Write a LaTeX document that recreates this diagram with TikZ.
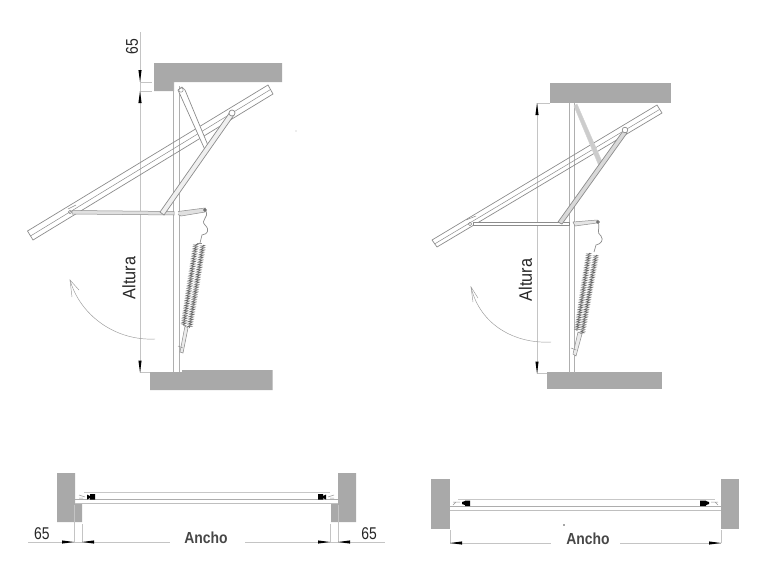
\documentclass[tikz,border=0pt]{standalone}
\usepackage{fontspec}
\setmainfont{Liberation Sans}
\usetikzlibrary{calc,decorations.pathmorphing}
\definecolor{wallgrey}{HTML}{A9A9A9}
\definecolor{dimgrey}{HTML}{C4C4C4}
\definecolor{linegrey}{HTML}{8C8C8C}
\tikzset{
  wall/.style={fill=wallgrey,draw=none},
  dimline/.style={draw=dimgrey,line width=.8pt},
  extline/.style={draw=dimgrey,line width=.6pt},
  framel/.style={draw=linegrey!70,line width=.8pt},
  sashl/.style={draw=linegrey,line width=.7pt},
  arml/.style={draw=linegrey,line width=.7pt,fill=white},
  thinl/.style={draw=linegrey,line width=.5pt},
  springl/.style={draw=black!60,line width=.45pt,decorate,decoration={zigzag,segment length=1.7pt,amplitude=2.1pt}},
  swing/.style={draw=black!40,line width=.45pt},
  label/.style={text=black!85,inner sep=0pt},
  boldlabel/.style={text=black!72,inner sep=0pt,font=\bfseries\fontsize{16}{16}\selectfont},
  head/.style={fill=black,draw=none},
  planA/.style={draw=black!22,line width=1pt},
  planB/.style={draw=black!32,line width=.7pt},
  planC/.style={draw=black!25,line width=.8pt},
}
\newcommand{\hdown}[2]{\fill[head] (#1,#2) -- ++(-1.6,-12) -- ++(3.2,0) -- cycle;}
\newcommand{\hup}[2]{\fill[head] (#1,#2) -- ++(-1.6,12) -- ++(3.2,0) -- cycle;}
\newcommand{\hright}[2]{\fill[head] (#1,#2) -- ++(-12,-1.6) -- ++(0,3.2) -- cycle;}
\newcommand{\hleft}[2]{\fill[head] (#1,#2) -- ++(12,-1.6) -- ++(0,3.2) -- cycle;}
\begin{document}
\begin{tikzpicture}[x=1pt,y=-1pt]
\useasboundingbox (0,0) rectangle (779,584);
\fill[white] (0,0) rectangle (779,584);

%% ---------- LEFT ELEVATION ----------
\fill[wall] (154,63) -- (282,63) -- (282,82) -- (174,82) -- (174,91) -- (154,91) -- cycle;
\fill[wall] (150,372) -- (182,372) -- (182,370) -- (272.5,370) -- (272.5,390) -- (150,390) -- cycle;
\draw[dimline] (140,32) -- (140,372) -- (150,372);
\draw[extline] (140,82) -- (152,82) (140,91) -- (152,91);
\hdown{140}{82}\hup{140}{91}\hdown{140}{372.5}
\draw[framel] (173.7,82) -- (173.7,372) (179,86) -- (179,372);
% sash
\draw[sashl] (268,85) -- (273,94) -- (33,240) -- (27.5,231) -- cycle;
\draw[thinl] (270.5,89.5) -- (30.5,236);
% arms
\draw[thinl,fill=black!12] (72,210.5) -- (174,211.5) -- (174,215) -- (72,214) -- cycle;
\draw[arml] (182,87) -- (178,90) -- (205.5,151) -- (209.5,149) -- (185,90) -- cycle;
\draw[arml,fill=black!6] (230,112) -- (160,212) -- (164,215) -- (234,115) -- cycle;
\draw[arml] (232,113) circle (3);
\draw[thinl] (181,90) circle (2.2);
\draw[thinl] (68,209) -- (76,205);
\draw[thinl] (70,212) circle (1.8);
\draw[thinl,fill=black!12] (178,211.5) -- (205,208) -- (205,212) -- (181,216) -- (178,214.5);
\draw[draw=black!70,line width=.7pt] (205,210) circle (1.3);
\draw[thinl,line width=.7pt] (206,211) .. controls (209,218) and (200,220) .. (205,225)
  .. controls (210,230) and (208,234) .. (202,235) -- (200,243);
% spring
\draw[thinl] (197,243) -- (202,243);
\draw[springl] (196,244) -- (183.5,326);
\draw[springl] (203,245) -- (189.5,328);
\draw[thinl,fill=black!8] (185,326) -- (180,352) -- (183,353) -- (188,328) -- cycle;
\draw[thinl] (178,346) -- (183,348);
% swing arrow
\draw[swing] (155,339) .. controls (115,341) and (80,315) .. (70,280);
\draw[swing] (79,290) -- (70,280) -- (72,297);

%% ---------- RIGHT ELEVATION ----------
\fill[wall] (550,83) rectangle (671,103);
\fill[wall] (547,372) rectangle (662,389);
\draw[dimline] (550,103) -- (537,103) -- (537,373) -- (547,373);
\hup{537}{103}\hdown{537}{373.5}
\draw[framel] (569,103) -- (569,373) (574,103) -- (574,373);
% sash
\draw[sashl] (657,105) -- (662,113) -- (437,247) -- (432,240) -- cycle;
\draw[thinl] (659.5,109.5) -- (434.5,244);
% arms
\draw[thinl,fill=white] (473,222) -- (569,222) -- (569,225) -- (473,225) -- cycle;
\draw[draw=black!18,line width=.5pt,fill=black!20] (574,106) -- (577,104) -- (603,164) -- (599,166) -- cycle;
\draw[draw=linegrey,line width=.7pt,fill=black!15] (623,131) -- (558,222) -- (562,224) -- (627,133) -- cycle;
\draw[arml] (625,130) circle (2.8);
\draw[thinl] (470,224) circle (1.8);
\draw[thinl] (466,220) -- (476,216);
\draw[thinl,fill=black!10] (573,222) -- (597,220) -- (597,223) -- (575,226) -- cycle;
\draw[draw=black!70,line width=.7pt] (598,222) circle (1.3);
\draw[thinl,line width=.7pt] (598.5,223) .. controls (600,230) and (596,232) .. (601,236)
  .. controls (604,240) and (601,244) .. (596,245) -- (594,252);
% spring
\draw[springl] (589,253) -- (577,331);
\draw[springl] (596,255) -- (582,334);
\draw[thinl,fill=black!8] (578,332) -- (573,354) -- (576,356) -- (582,334) -- cycle;
\draw[thinl] (571,348) -- (576,350);
% swing arrow
\draw[swing] (551,342) .. controls (515,344) and (480,325) .. (471,287);
\draw[swing] (478,298) -- (471,287) -- (473,302);

%% ---------- LEFT PLAN ----------
\fill[wall] (57,473) -- (75,473) -- (75,503) -- (82,503) -- (82,522) -- (57,522) -- cycle;
\fill[wall] (338,473) -- (356,473) -- (356,522) -- (331,522) -- (331,503) -- (338,503) -- cycle;
\draw[planA] (84,492.5) -- (330,492.5);
\draw[planB] (75,499) -- (338,499);
\draw[planC] (75,503) -- (338,503);
\fill[black] (87,494.5) -- (90,496) -- (90,494) -- (95,494) -- (95,499.5) -- (90,499.5) -- (90,498) -- (87,499.5) -- cycle;
\fill[black] (326,494.5) -- (323,496) -- (323,494) -- (318,494) -- (318,499.5) -- (323,499.5) -- (323,498) -- (326,499.5) -- cycle;
\draw[thinl,draw=black!40] (79,495) -- (85,497) (79,498) -- (83,498);
\draw[thinl,draw=black!40] (334,495) -- (328,497) (334,498) -- (330,498);
\draw[extline] (74,505) -- (74,542) (82,524) -- (82,542) (330,524) -- (330,542) (338,505) -- (338,542);
\draw[dimline] (28,542) -- (170,542) (245,542) -- (385,542);
\hright{74}{542}\hleft{82}{542}\hright{330}{542}\hleft{338}{542}

%% ---------- RIGHT PLAN ----------
\fill[wall] (431,479) rectangle (450,529);
\fill[wall] (721,479) rectangle (739,529);
\draw[planA] (458,499.5) -- (715,499.5);
\draw[planB] (450,506.5) -- (721,506.5);
\draw[planC] (450,510.5) -- (721,510.5);
\fill[black] (462,502) -- (465,501) -- (465,500.5) -- (470,500.5) -- (470,506) -- (465,506) -- (465,505) -- (462,504) -- cycle;
\fill[black] (709,502) -- (706,501) -- (706,500.5) -- (700,500.5) -- (700,506) -- (706,506) -- (706,505) -- (709,504) -- cycle;
\draw[thinl,draw=black!40] (453,502) -- (460,502) (453,505) -- (456,502);
\draw[thinl,draw=black!40] (718,502) -- (711,502) (718,505) -- (715,502);
\draw[extline] (450,530) -- (450,543) (721,530) -- (721,543);
\draw[dimline] (450,543) -- (551,543) (620,543) -- (721,543);
\hleft{450}{543}\hright{721}{543}
\fill[black!70] (564,525) circle (.8);
\fill[black!30] (296,131) circle (.6);

%% ---------- TEXT ----------
\node[label,rotate=90,font=\fontsize{17}{17}\selectfont] (topgap) at (132,46.5) {\scalebox{.82}[1]{65}};
\node[label,rotate=90,font=\fontsize{18}{18}\selectfont] (heightl) at (129,278) {\scalebox{.9}[1]{Altura}};
\node[label,rotate=90,font=\fontsize{18}{18}\selectfont] (heightr) at (525.5,280) {\scalebox{.9}[1]{Altura}};
\node[label,font=\fontsize{17}{17}\selectfont] (gapl) at (42,534) {\scalebox{.82}[1]{65}};
\node[label,font=\fontsize{17}{17}\selectfont] (gapr) at (369,534) {\scalebox{.82}[1]{65}};
\node[boldlabel] (widthl) at (206,538) {\scalebox{.87}[1]{Ancho}};
\node[boldlabel] (widthr) at (588,539) {\scalebox{.87}[1]{Ancho}};
\end{tikzpicture}
\end{document}
